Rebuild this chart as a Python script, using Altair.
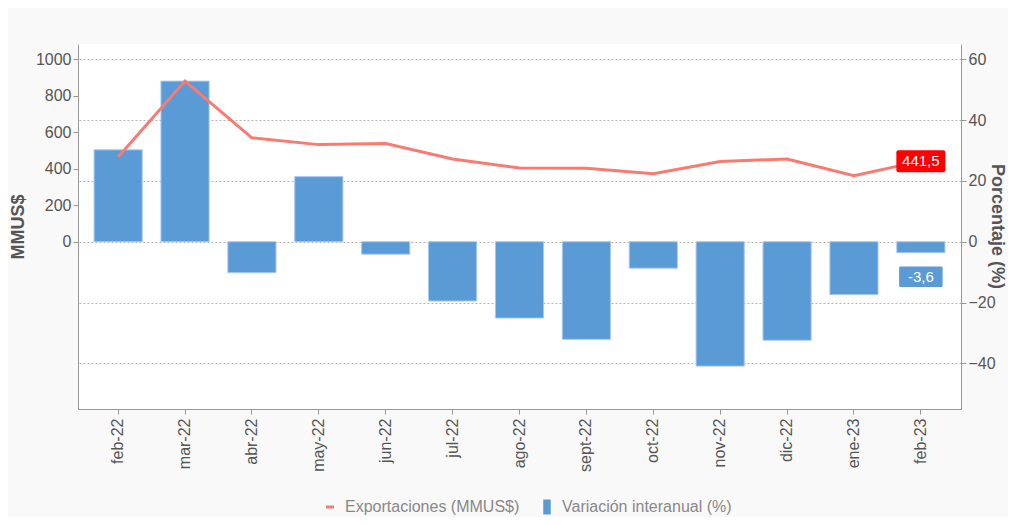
import altair as alt
import pandas as pd

months = ["feb-22", "mar-22", "abr-22", "may-22", "jun-22", "jul-22", "ago-22",
          "sept-22", "oct-22", "nov-22", "dic-22", "ene-23", "feb-23"]
exports = [464, 880, 569, 532, 538, 453, 404, 402, 373, 440, 453, 362, 441.5]
variation = [30.2, 52.8, -10.2, 21.4, -4.1, -19.5, -25.1, -32.1, -8.7, -40.9, -32.4, -17.4, -3.6]
left_ticks = [0, 200, 400, 600, 800, 1000]
right_ticks = [-40, -20, 0, 20, 40, 60]

S_EXP = "Exportaciones (MMUS$)"
S_VAR = "Variación interanual (%)"

df = pd.DataFrame({"mes": months, "exp": exports, "var": variation})
df["exp_lbl"] = [f"{v:.1f}".replace(".", ",") for v in exports]
df["var_lbl"] = [f"{v:.1f}".replace(".", ",") for v in variation]
df["s_exp"] = S_EXP
df["s_var"] = S_VAR
last = months[-1]

FONT = "Liberation Sans"
RED = "#f77b72"
BLUE = "#5b9bd5"

x_enc = alt.X("mes:N", sort=months, title=None,
              scale=alt.Scale(paddingInner=0.28, paddingOuter=0.24),
              axis=alt.Axis(labelAngle=270, labelFontSize=16, labelColor="#555",
                            tickSize=5, labelPadding=4, domainColor="#999",
                            tickColor="#999", labelFont=FONT))

var_axis = alt.Axis(orient="right", values=right_ticks, title="Porcentaje (%)",
                    grid=True, gridDash=[2, 2], gridColor="#b5b5b5", tickSize=5,
                    titleAngle=90, titleX=35, titleY=182, titleAlign="center",
                    titleBaseline="middle", format="d")
y_var = alt.Y("var:Q", scale=alt.Scale(domain=[-55, 65], nice=False, zero=False),
              axis=var_axis, stack=None)

exp_axis = alt.Axis(orient="left", values=left_ticks, title="MMUS$", grid=False,
                    tickSize=5, titlePadding=8, format="d")
y_exp = alt.Y("exp:Q", scale=alt.Scale(domain=[-916.67, 1083.33], nice=False, zero=False),
              axis=exp_axis)

base = alt.Chart(df)

bars = base.mark_bar(stroke="#a9c9ec", strokeWidth=1).encode(
    x=x_enc, y=y_var,
    color=alt.Color("s_var:N", scale=alt.Scale(domain=[S_VAR], range=[BLUE]),
                    legend=alt.Legend(orient="none", legendX=461, legendY=455,
                                      title=None, symbolType="M-0.5,-1H0.5V1H-0.5Z",
                                      symbolSize=225, symbolStrokeWidth=0,
                                      labelFontSize=16, labelColor="#888",
                                      labelFont=FONT, labelOffset=7, padding=0,
                                      labelLimit=400)))

var_box = base.transform_filter(alt.datum.mes == last).mark_bar(
    color=BLUE, stroke="white", strokeWidth=1.5, width=45, yOffset=13, y2Offset=35,
    cornerRadius=2).encode(x=x_enc, y=y_var, y2=alt.Y2("var:Q"))

var_text = base.transform_filter(alt.datum.mes == last).mark_text(
    color="white", fontSize=15, font=FONT, baseline="middle", align="center", dy=24
).encode(x=x_enc, y=y_var, text="var_lbl:N")

line = base.mark_line(strokeWidth=3).encode(
    x=x_enc, y=y_exp,
    color=alt.Color("s_exp:N", scale=alt.Scale(domain=[S_EXP], range=[RED]),
                    legend=alt.Legend(orient="none", legendX=244, legendY=455,
                                      title=None, symbolType="stroke",
                                      symbolSize=64, symbolStrokeWidth=3,
                                      labelFontSize=16, labelColor="#888",
                                      labelFont=FONT, labelOffset=7, padding=0,
                                      labelLimit=400)))

exp_box = base.transform_filter(alt.datum.mes == last).mark_bar(
    color="#ff0000", width=49, yOffset=-11, y2Offset=11, cornerRadius=2
).encode(x=x_enc, y=y_exp, y2=alt.Y2("exp:Q"))

exp_text = base.transform_filter(alt.datum.mes == last).mark_text(
    color="white", fontSize=15, font=FONT, baseline="middle", align="center"
).encode(x=x_enc, y=y_exp, text="exp_lbl:N")

bar_group = alt.layer(bars, var_box, var_text)
line_group = alt.layer(line, exp_box, exp_text)

chart = alt.layer(bar_group, line_group).resolve_scale(
    y="independent", color="independent"
).resolve_legend(color="independent").properties(
    width=883, height=365,
    autosize=alt.AutoSizeParams(type="none"),
    padding={"left": 70, "top": 36, "right": 47, "bottom": 108},
).configure(background="#f9f9f9", font=FONT).configure_view(
    fill="white", stroke=None
).configure_axis(
    labelFont=FONT, titleFont=FONT, labelFontSize=16, labelColor="#555",
    titleColor="#555", titleFontSize=18, titleFontWeight="bold",
    domainColor="#999", tickColor="#999"
)

chart.save("out.html", embed_options={"renderer": "svg", "actions": False})
